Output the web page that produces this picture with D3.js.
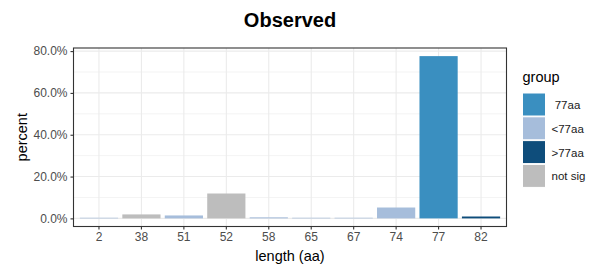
<!DOCTYPE html>
<html>
<head>
<meta charset="utf-8">
<script src="https://cdn.jsdelivr.net/npm/d3@7"></script>
<style>
  body { margin: 0; background: #fff; }
  text { font-family: "Liberation Sans", Arial, sans-serif; }
</style>
</head>
<body>
<div id="chart"></div>
<script>
const width = 592;
const height = 269;

// data
const lengths = ["2", "38", "51", "52", "58", "65", "67", "74", "77", "82"];
const percents = [0.3, 1.9, 1.4, 11.9, 0.5, 0.3, 0.3, 5.2, 77.6, 0.9];
const groups = ["<77aa", "not sig", "<77aa", "not sig", "<77aa", "<77aa", "<77aa", "<77aa", " 77aa", ">77aa"];
const groupNames = [" 77aa", "<77aa", ">77aa", "not sig"];
const groupColors = ["#3a8fc0", "#a6bddb", "#0e4d7b", "#bdbdbd"];
const yTicks = [0, 20, 40, 60, 80];

const rows = lengths.map((l, i) => ({ len: l, pct: percents[i], group: groups[i] }));

const margin = { top: 48, right: 86, bottom: 42, left: 73.5 };
const pw = 506.5 - margin.left;
const ph = 226.5 - margin.top;

const svg = d3.select("#chart").append("svg")
  .attr("width", width)
  .attr("height", height);

const g = svg.append("g").attr("transform", `translate(${margin.left},${margin.top})`);

// ggplot-style expansion: discrete 0.6 units, continuous 5%
const step = pw / (lengths.length + 0.2);
const x = d3.scaleBand()
  .domain(lengths)
  .range([0.1 * step, pw - 0.1 * step])
  .paddingInner(0.1)
  .paddingOuter(0.05);

const maxY = d3.max(percents);
const y = d3.scaleLinear()
  .domain([-maxY * 0.05, maxY * 1.05])
  .range([ph, 0]);

const color = d3.scaleOrdinal().domain(groupNames).range(groupColors);

// grid
const minor = [10, 30, 50, 70];
g.selectAll(".minor").data(minor).enter().append("line")
  .attr("x1", 0).attr("x2", pw)
  .attr("y1", d => y(d)).attr("y2", d => y(d))
  .attr("stroke", "#ebebeb").attr("stroke-width", 0.6);
g.selectAll(".hmajor").data(yTicks).enter().append("line")
  .attr("x1", 0).attr("x2", pw)
  .attr("y1", d => y(d)).attr("y2", d => y(d))
  .attr("stroke", "#ebebeb").attr("stroke-width", 1.1);
g.selectAll(".vmajor").data(lengths).enter().append("line")
  .attr("y1", 0).attr("y2", ph)
  .attr("x1", d => x(d) + x.bandwidth() / 2).attr("x2", d => x(d) + x.bandwidth() / 2)
  .attr("stroke", "#ebebeb").attr("stroke-width", 1.1);

// bars
g.selectAll(".bar").data(rows).enter().append("rect")
  .attr("x", d => x(d.len))
  .attr("width", x.bandwidth())
  .attr("y", d => y(d.pct))
  .attr("height", d => y(0) - y(d.pct))
  .attr("fill", d => color(d.group));

// panel border
g.append("rect")
  .attr("width", pw).attr("height", ph)
  .attr("fill", "none").attr("stroke", "#333333").attr("stroke-width", 1.1);

// axes
const yAxis = g.append("g")
  .call(d3.axisLeft(y).tickValues(yTicks).tickFormat(d => d.toFixed(1) + "%").tickSize(3).tickPadding(3));
const xAxis = g.append("g").attr("transform", `translate(0,${ph})`)
  .call(d3.axisBottom(x).tickSize(3).tickPadding(3));
[yAxis, xAxis].forEach(a => {
  a.select(".domain").remove();
  a.selectAll(".tick line").attr("stroke", "#333333").attr("stroke-width", 1.1);
  a.selectAll(".tick text").attr("fill", "#4d4d4d").style("font-size", "12px");
});

// titles
svg.append("text")
  .attr("x", margin.left + pw / 2).attr("y", 27)
  .attr("text-anchor", "middle")
  .style("font-size", "20px").style("font-weight", "bold")
  .text("Observed");

svg.append("text")
  .attr("x", margin.left + pw / 2).attr("y", 261)
  .attr("text-anchor", "middle")
  .style("font-size", "14.5px")
  .text("length (aa)");

svg.append("text")
  .attr("transform", `translate(27,${margin.top + ph / 2}) rotate(-90)`)
  .attr("text-anchor", "middle")
  .style("font-size", "14.5px")
  .text("percent");

// legend
const lg = svg.append("g").attr("transform", "translate(522.5,77)");
lg.append("text").attr("x", 0).attr("y", 5).style("font-size", "14.5px").text("group");
const items = lg.selectAll(".item").data(groupNames).enter().append("g")
  .attr("transform", (d, i) => `translate(0,${16 + i * 23.8})`);
items.append("rect")
  .attr("width", 23).attr("height", 23)
  .attr("fill", d => color(d))
  .attr("stroke", "#fff").attr("stroke-width", 1);
items.append("text")
  .attr("x", 29).attr("y", 16)
  .attr("fill", "#1a1a1a")
  .style("font-size", "11.5px")
  .text(d => d)
  .attr("xml:space", "preserve");
</script>
</body>
</html>
